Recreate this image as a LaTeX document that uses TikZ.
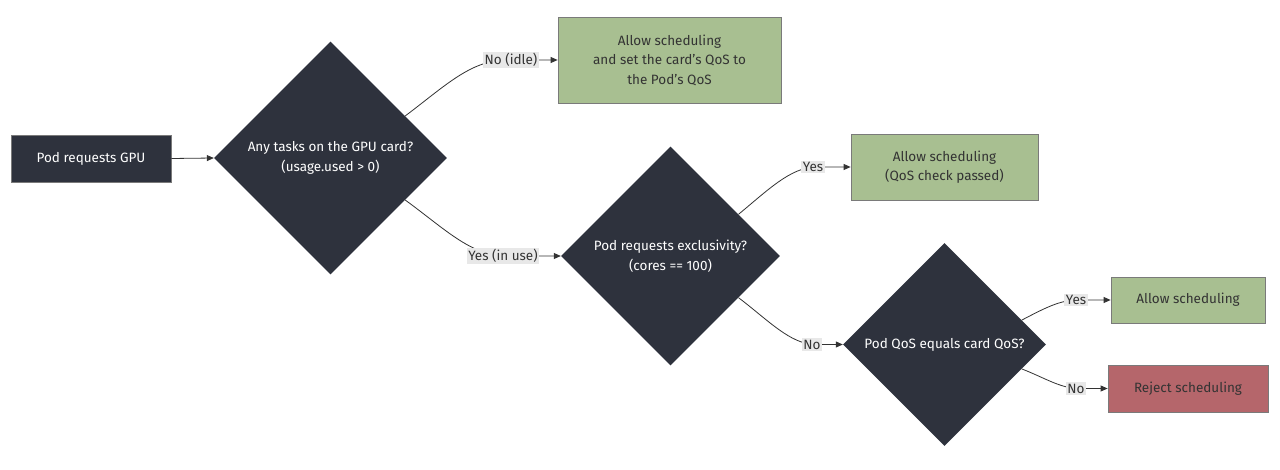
\documentclass[tikz,border=0pt]{standalone}
\usepackage{fontspec}
\setmainfont{Fira Sans}
\usetikzlibrary{shapes.geometric,arrows.meta,calc}
\definecolor{darkfill}{HTML}{2E323D}
\definecolor{greenfill}{HTML}{A8BF91}
\definecolor{redfill}{HTML}{B5666B}
\definecolor{bordergray}{HTML}{7A7A7A}
\definecolor{labelbg}{HTML}{E8E8E8}
\definecolor{linecol}{HTML}{333333}
\definecolor{txtdark}{HTML}{333333}
\tikzset{
  x=1pt,y=-1pt,
  every node/.style={font=\fontsize{13.5}{19.5}\selectfont},
  darkbox/.style={draw=bordergray,fill=darkfill,text=white,line width=0.8pt,minimum width=160pt,minimum height=47pt,inner sep=0pt},
  greenbox/.style={draw=bordergray,fill=greenfill,text=txtdark,line width=0.8pt,align=center,inner sep=0pt},
  redbox/.style={draw=bordergray,fill=redfill,text=txtdark,line width=0.8pt,align=center,inner sep=0pt},
  decision/.style={diamond,aspect=1,fill=darkfill,text=white,align=center,inner sep=0pt},
  edgelabel/.style={fill=labelbg,text=txtdark,inner sep=1.5pt},
  conn/.style={draw=linecol,line width=0.8pt},
  arr/.style={conn,-{Triangle[length=7pt,width=6pt]}}
}
\begin{document}
\begin{tikzpicture}
\useasboundingbox (0,0) rectangle (1280,470);
\fill[white] (0,0) rectangle (1280,470);
% nodes
\node[darkbox] (start) at (91,158.5) {Pod requests GPU};
\node[decision,minimum width=233pt,minimum height=233pt] (d1) at (330.5,158) {Any tasks on the GPU card?\\(usage.used > 0)};
\node[greenbox,minimum width=223pt,minimum height=86pt] (b1) at (669.5,60) {Allow scheduling\\and set the card's QoS to\\the Pod's QoS};
\node[decision,minimum width=219pt,minimum height=219pt] (d2) at (670.5,256) {Pod requests exclusivity?\\(cores == 100)};
\node[greenbox,minimum width=187pt,minimum height=66pt] (b2) at (944.5,167) {Allow scheduling\\(QoS check passed)};
\node[decision,minimum width=203pt,minimum height=203pt] (d3) at (944.5,344.5) {Pod QoS equals card QoS?};
\node[greenbox,minimum width=154pt,minimum height=46pt] (b3) at (1188,300) {Allow scheduling};
\node[redbox,minimum width=160pt,minimum height=47pt] (b4) at (1188,388.5) {Reject scheduling};
% anchor coordinates on diamond edges
\coordinate (d1ne) at ($(d1.north)!0.64!(d1.east)$);
\coordinate (d1se) at ($(d1.south)!0.64!(d1.east)$);
\coordinate (d2ne) at ($(d2.north)!0.62!(d2.east)$);
\coordinate (d2se) at ($(d2.south)!0.62!(d2.east)$);
\coordinate (d3ne) at ($(d3.north)!0.76!(d3.east)$);
\coordinate (d3se) at ($(d3.south)!0.76!(d3.east)$);
% connectors
\draw[arr] (start.east) -- (d1.west);
\draw[arr] (d1ne) .. controls (445,86) and (470,61) .. (505,60) -- (b1.west);
\node[edgelabel] (l1) at (511,60) {No (idle)};
\draw[arr] (d1se) .. controls (445,229) and (470,255) .. (505,256) -- (d2.west);
\node[edgelabel] (l2) at (503,256) {Yes (in use)};
\draw[arr] (d2ne) .. controls (768,190) and (790,168) .. (815,167) -- (b2.west);
\node[edgelabel] (l3) at (813,167) {Yes};
\draw[arr] (d2se) .. controls (768,320) and (790,344) .. (815,344.5) -- (d3.west);
\node[edgelabel] (l4) at (812,344.5) {No};
\draw[arr] (d3ne) .. controls (1045,308) and (1060,300) .. (1078,300) -- (b3.west);
\node[edgelabel] (l5) at (1076,300) {Yes};
\draw[arr] (d3se) .. controls (1045,378) and (1060,388) .. (1078,388.5) -- (b4.west);
\node[edgelabel] (l6) at (1076,388.5) {No};
\end{tikzpicture}
\end{document}
